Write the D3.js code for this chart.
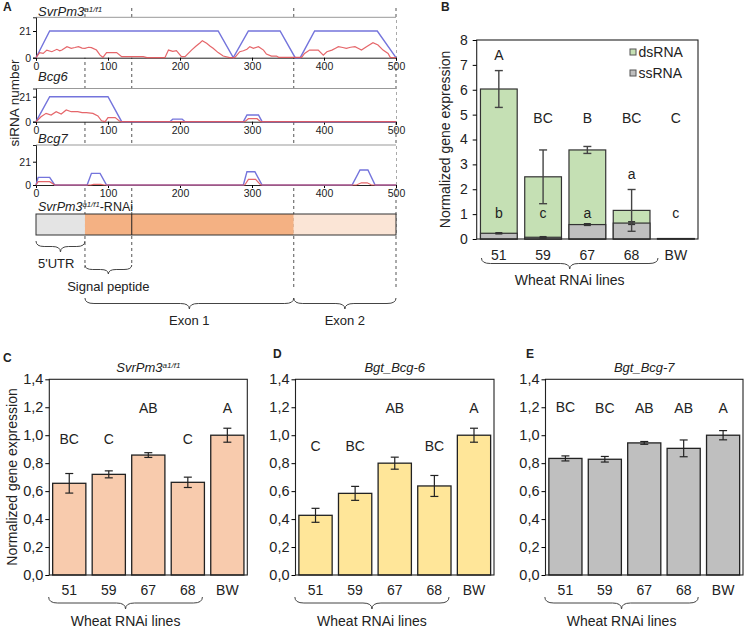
<!DOCTYPE html>
<html><head><meta charset="utf-8">
<script src="https://cdn.jsdelivr.net/npm/d3@7"></script>
<style>body{margin:0;background:#fff} text{font-family:Arial,"Liberation Sans",sans-serif;fill:#222}</style>
</head><body><svg id="fig" width="750" height="631"></svg>
<script>
// ---------------- DATA ----------------
// Panel A: siRNA coverage along the 500-bp RNAi fragment
const svrBlue = [[0,0],[19,21],[253,21],[274,0],[295,21],[339,21],[360,0],[367,0],[387,21],[474,21],[500,0]];
const svrRed = [[0,0],[5,4],[10,3.4],[15,6],[22,4.7],[29,6.6],[33,5.4],[36,6],[43,8.7],[49,7.4],[54,8],[59,8.7],[64,7.6],[68,7.4],[73,8.2],[77,7.9],[84,6],[89,2],[93,0.3],[98,4],[112,4],[119,0.8],[128,0.8],[149,0.8],[154,0],[179,0],[184,6],[190,5],[195,5.5],[202,0.8],[207,0.8],[216,6],[222,9],[228,11.8],[231,13.4],[237,11.3],[242,9],[246,7.4],[253,4],[260,1.3],[269,0],[276,0],[283,4.7],[288,5.5],[293,6.6],[297,8.7],[302,7.4],[309,8.7],[316,6],[320,2.9],[327,1.3],[334,1.3],[337,0.3],[369,0.3],[373,3.4],[380,6],[392,6],[399,2],[404,4.7],[411,6],[416,7.5],[420,8.7],[426,8],[431,7.4],[437,8.2],[443,8.7],[448,7.2],[452,6],[459,8.7],[468,11.8],[475,10],[482,6],[489,3.4],[492,0.3],[500,0]];
const bcg6Blue = [[0,0],[19,21],[100,21],[119,0],[186,0],[190,2.2],[203,2.2],[207,0],[288,0],[293,5.6],[309,5.6],[314,0],[500,0]];
const bcg6Red = [[0,0],[7,4.2],[14,7],[21,5.6],[28,8.4],[35,6.4],[42,9.8],[49,8.4],[58,8.4],[64,7.6],[70,7.6],[79,7],[86,4.8],[91,0.8],[96,0],[100,3.4],[110,3.4],[117,0],[290,0],[295,2.5],[307,2.5],[312,0],[500,0]];
const bcg7Blue = [[0,0],[3,6.9],[19,6.9],[26,0],[71,0],[77,10.5],[89,10.5],[98,0],[288,0],[293,12],[304,12],[314,0],[439,0],[450,13.5],[461,13.5],[471,0],[500,0]];
const bcg7Red = [[0,0],[3,3],[19,3],[26,0],[76,0],[80,0.6],[90,0.6],[95,0],[290,0],[295,5],[305,5],[312,0],[445,0],[452,2],[460,2],[466,0],[500,0]];
const coverageTicksX = [0,100,200,300,400,500];
const coverageTicksY = [0,21];
const geneRegions = [["5'UTR",0,68],["Exon 1",68,358],["Exon 2",358,500]];
const signalPeptide = [68,133];
const regionBoundaries = [68,133,358,500];

// Panel B
const catsB = ["51","59","67","68","BW"];
const dsRNA = [6.03, 2.50, 3.58, 1.15, 0.02];
const dsErr = [0.74, 1.08, 0.14, 0.84, 0];
const ssRNA = [0.23, 0.07, 0.58, 0.64, 0.01];
const ssErr = [0.02, 0.02, 0.03, 0.05, 0];
const dsLetters = ["A","BC","B","BC","C"];
const ssLetters = ["b","c","a","a","c"];
const dsLetterLevel = [7.4, 4.85, 4.85, 4.85, 4.85];
const ssLetterLevel = [1.05, 1.05, 1.05, 2.6, 1.05];
const yTicksB = [0,1,2,3,4,5,6,7,8];

// Panels C, D, E
const catsCDE = ["51","59","67","68","BW"];
const svrValues = [0.656, 0.72, 0.858, 0.663, 1.0];
const svrErr = [0.07, 0.025, 0.017, 0.037, 0.05];
const svrLetters = ["BC","C","AB","C","A"];
const svrLetterLevel = [0.97, 0.97, 1.195, 0.97, 1.195];
const bcg6Values = [0.427, 0.584, 0.80, 0.637, 1.0];
const bcg6Err = [0.05, 0.05, 0.043, 0.075, 0.05];
const bcg6Letters = ["C","BC","AB","BC","A"];
const bcg6LetterLevel = [0.92, 0.92, 1.195, 0.92, 1.195];
const bcg7Values = [0.834, 0.828, 0.945, 0.906, 1.0];
const bcg7Err = [0.018, 0.02, 0.01, 0.06, 0.033];
const bcg7Letters = ["BC","BC","AB","AB","A"];
const bcg7LetterLevel = [1.2, 1.195, 1.195, 1.195, 1.195];
const yTicksCDE = [0,0.2,0.4,0.6,0.8,1.0,1.2,1.4];

// ---------------- HELPERS ----------------
const svg = d3.select("#fig");
function brace(g, x1, x2, y, h, tip) {
  const m = tip ?? (x1 + x2) / 2;
  const q = Math.min(9, (x2 - x1) / 6);
  const yh = y + h / 2;
  g.append("path")
    .attr("d", `M${x1},${y} Q${x1},${yh} ${x1+q},${yh} L${m-q},${yh} Q${m},${yh} ${m},${y+h} Q${m},${yh} ${m+q},${yh} L${x2-q},${yh} Q${x2},${yh} ${x2},${y}`)
    .attr("fill","none").attr("stroke","#444").attr("stroke-width",1);
}
function panelLetter(t, x, y) {
  svg.append("text").attr("x",x).attr("y",y).attr("font-size",12).attr("font-weight","bold").text(t);
}
function supTitle(g, x, y, base, sup, rest, anchor, size) {
  const t = g.append("text").attr("x",x).attr("y",y).attr("font-size",size).attr("text-anchor",anchor||"start");
  t.append("tspan").attr("font-style","italic").text(base);
  t.append("tspan").attr("font-style","italic").attr("font-size",size*0.62).attr("dy",-size*0.34).text(sup);
  if (rest) t.append("tspan").attr("dy",size*0.34).text(rest);
  return t;
}

// ---------------- PANEL A ----------------
const gA = svg.append("g");
panelLetter("A", 3, 11);
const xA = d3.scaleLinear().domain([0,500]).range([36,396]);

// dashed boundary lines (drawn first; the plot areas cover them)
const dashEnd = {68:268, 133:265, 358:290, 500:290};
gA.selectAll(null).data(regionBoundaries).join("line")
  .attr("x1",d=>xA(d)).attr("x2",d=>xA(d)).attr("y1",8).attr("y2",d=>dashEnd[d])
  .attr("stroke","#555").attr("stroke-dasharray","3,3").attr("stroke-width",1);

const subplots = [
  {title:"SvrPm3", sup:"a1/f1", top:17.3, base:57.7, h21:26.7, blue:svrBlue, red:svrRed, ty:16},
  {title:"Bcg6", sup:"", top:88.5, base:121.7, h21:25, blue:bcg6Blue, red:bcg6Red, ty:81},
  {title:"Bcg7", sup:"", top:145, base:185, h21:23.3, blue:bcg7Blue, red:bcg7Red, ty:143}
];
subplots.forEach(s => {
  const ymax = 21 * (s.base - s.top) / s.h21;
  const y = d3.scaleLinear().domain([0, ymax]).range([s.base, s.top]);
  const g = gA.append("g");
  g.append("rect").attr("x",xA(0)).attr("y",s.top).attr("width",xA(500)-xA(0)).attr("height",s.base-s.top).attr("fill","#fff");
  g.append("line").attr("x1",xA(0)).attr("x2",xA(500)).attr("y1",s.top).attr("y2",s.top).attr("stroke","#999");
  const line = d3.line().x(d=>xA(d[0])).y(d=>y(d[1]));
  const ax = g.append("g").attr("transform",`translate(0,${s.base})`)
    .call(d3.axisBottom(xA).tickValues(coverageTicksX).tickSize(3).tickPadding(1.5));
  ax.select(".domain").attr("stroke","#222");
  ax.selectAll("text").attr("font-size",10.5).attr("fill","#222");
  const ay = g.append("g").attr("transform",`translate(${xA(0)},0)`)
    .call(d3.axisLeft(y).tickValues(coverageTicksY).tickSize(3).tickPadding(2));
  ay.select(".domain").attr("stroke","#222");
  ay.selectAll("text").attr("font-size",10.5).attr("fill","#222");
  g.append("path").attr("d",line(s.blue)).attr("fill","none").attr("stroke","#7474dc").attr("stroke-width",1.4);
  g.append("path").attr("d",line(s.red)).attr("fill","none").attr("stroke","#e2555a").attr("stroke-width",1.2).attr("stroke-opacity",0.9);
  if (s.sup) supTitle(g, 38, s.ty, s.title, s.sup, "", "start", 13);
  else g.append("text").attr("x",38).attr("y",s.ty).attr("font-size",13).attr("font-style","italic").text(s.title);
});
gA.append("text").attr("transform","translate(19,103) rotate(-90)").attr("text-anchor","middle").attr("font-size",13.5).text("siRNA number");

// gene diagram
supTitle(gA, 38, 211, "SvrPm3", "a1/f1", "-RNAi", "start", 12.5);
const geneColors = {"5'UTR":"#e4e4e4","Exon 1":"#f4b183","Exon 2":"#fbe5d6"};
gA.selectAll(null).data(geneRegions).join("rect")
  .attr("x",d=>xA(d[1])).attr("width",d=>xA(d[2])-xA(d[1])).attr("y",214).attr("height",21)
  .attr("fill",d=>geneColors[d[0]]);
gA.append("rect").attr("x",xA(0)).attr("y",214).attr("width",xA(500)-xA(0)).attr("height",21).attr("fill","none").attr("stroke","#333");
gA.append("line").attr("x1",xA(signalPeptide[1])).attr("x2",xA(signalPeptide[1])).attr("y1",214).attr("y2",235).attr("stroke","#222");

brace(gA, xA(0), xA(68), 241, 11);
gA.append("text").attr("x",38).attr("y",268).attr("font-size",13).text("5'UTR");
brace(gA, xA(signalPeptide[0]), xA(signalPeptide[1]), 265, 9);
gA.append("text").attr("x",(xA(signalPeptide[0])+xA(signalPeptide[1]))/2).attr("y",291).attr("text-anchor","middle").attr("font-size",13).text("Signal peptide");
brace(gA, xA(68), xA(358), 298, 11);
gA.append("text").attr("x",(xA(68)+xA(358))/2).attr("y",325).attr("text-anchor","middle").attr("font-size",13).text("Exon 1");
brace(gA, xA(358), xA(500), 298, 11);
gA.append("text").attr("x",(xA(358)+xA(500))/2).attr("y",325).attr("text-anchor","middle").attr("font-size",13).text("Exon 2");

// ---------------- PANEL B ----------------
const gB = svg.append("g");
panelLetter("B", 441, 11);
const xB = d3.scaleBand().domain(catsB).range([476.7,698]).paddingInner(0.17).paddingOuter(0.085);
const yB = d3.scaleLinear().domain([0,8]).range([239,40]);
const bw = xB.bandwidth();
gB.selectAll(null).data(catsB).join("rect")
  .attr("x",d=>xB(d)).attr("width",bw).attr("y",(d,i)=>yB(dsRNA[i])).attr("height",(d,i)=>yB(0)-yB(dsRNA[i]))
  .attr("fill","#c5e0b4").attr("stroke","#333").attr("stroke-width",1.2);
gB.selectAll(null).data(catsB).join("rect")
  .attr("x",d=>xB(d)).attr("width",bw).attr("y",(d,i)=>yB(ssRNA[i])).attr("height",(d,i)=>yB(0)-yB(ssRNA[i]))
  .attr("fill","#bfbfbf").attr("stroke","#333").attr("stroke-width",1.2);
function errBars(g, cats, x, y, vals, errs, cap, color, w) {
  cats.forEach((c,i) => {
    if (!errs[i]) return;
    const cx = x(c) + x.bandwidth()/2;
    const y1 = y(vals[i]-errs[i]), y2 = y(vals[i]+errs[i]);
    g.append("line").attr("x1",cx).attr("x2",cx).attr("y1",y1).attr("y2",y2).attr("stroke",color).attr("stroke-width",w);
    [y1,y2].forEach(yy => g.append("line").attr("x1",cx-cap).attr("x2",cx+cap).attr("y1",yy).attr("y2",yy).attr("stroke",color).attr("stroke-width",w));
  });
}
errBars(gB, catsB, xB, yB, ssRNA, ssErr, 3.5, "#333", 1.6);
errBars(gB, catsB, xB, yB, dsRNA, dsErr, 4, "#444", 1.4);
gB.append("rect").attr("x",476.7).attr("y",40).attr("width",698-476.7).attr("height",199).attr("fill","none").attr("stroke","#222").attr("stroke-width",1.1);
const ayB = gB.append("g").attr("transform","translate(476.7,0)").call(d3.axisLeft(yB).tickValues(yTicksB).tickSize(4).tickPadding(5));
ayB.select(".domain").remove();
ayB.selectAll("text").attr("font-size",14).attr("fill","#222");
gB.selectAll(null).data(catsB).join("text").attr("x",d=>xB(d)+bw/2).attr("y",260).attr("text-anchor","middle").attr("font-size",14).text(d=>d);
gB.selectAll(null).data(dsLetters).join("text").attr("x",(d,i)=>xB(catsB[i])+bw/2).attr("y",(d,i)=>yB(dsLetterLevel[i])+5).attr("text-anchor","middle").attr("font-size",14).text(d=>d);
gB.selectAll(null).data(ssLetters).join("text").attr("x",(d,i)=>xB(catsB[i])+bw/2).attr("y",(d,i)=>yB(ssLetterLevel[i])+5).attr("text-anchor","middle").attr("font-size",14).text(d=>d);
// legend
[["dsRNA","#c5e0b4",52],["ssRNA","#bfbfbf",73]].forEach(l => {
  gB.append("rect").attr("x",630).attr("y",l[2]-3).attr("width",6).attr("height",6).attr("fill",l[1]).attr("stroke","#555");
  gB.append("text").attr("x",638.5).attr("y",l[2]+5).attr("font-size",14).text(l[0]);
});
brace(gB, xB("51")+1, xB("68")+bw+8, 258, 11);
gB.append("text").attr("x",(xB("51")+1+xB("68")+bw+8)/2).attr("y",285).attr("text-anchor","middle").attr("font-size",14).text("Wheat RNAi lines");
gB.append("text").attr("transform","translate(450,139.5) rotate(-90)").attr("text-anchor","middle").attr("font-size",14).text("Normalized gene expression");

// ---------------- PANELS C, D, E ----------------
function barPanel(o) {
  const g = svg.append("g");
  const x = d3.scaleBand().domain(catsCDE).range([o.left,o.right]).paddingInner(0.16).paddingOuter(0.085);
  const y = d3.scaleLinear().domain([0,1.4]).range([575,379.3]);
  const w = x.bandwidth();
  g.selectAll(null).data(catsCDE).join("rect")
    .attr("x",d=>x(d)).attr("width",w).attr("y",(d,i)=>y(o.values[i])).attr("height",(d,i)=>y(0)-y(o.values[i]))
    .attr("fill",o.color).attr("stroke","#222").attr("stroke-width",1.3);
  errBars(g, catsCDE, x, y, o.values, o.errs, 4, "#222", 1.2);
  g.append("rect").attr("x",o.left).attr("y",y(1.4)).attr("width",o.right-o.left).attr("height",y(0)-y(1.4)).attr("fill","none").attr("stroke","#222").attr("stroke-width",1.1);
  const ay = g.append("g").attr("transform",`translate(${o.left},0)`)
    .call(d3.axisLeft(y).tickValues(yTicksCDE).tickSize(4).tickPadding(2).tickFormat(d=>d3.format(".1f")(d).replace(".",",")));
  ay.select(".domain").remove();
  ay.selectAll("text").attr("font-size",14.5).attr("fill","#222");
  g.selectAll(null).data(catsCDE).join("text").attr("x",d=>x(d)+w/2).attr("y",595).attr("text-anchor","middle").attr("font-size",14).text(d=>d);
  g.selectAll(null).data(o.letters).join("text").attr("x",(d,i)=>x(catsCDE[i])+w/2).attr("y",(d,i)=>y(o.levels[i])+5).attr("text-anchor","middle").attr("font-size",14).text(d=>d);
  const b1 = x("51")-4, b2 = x("68")+w-2;
  brace(g, b1, b2, 597, 12);
  g.append("text").attr("x",(b1+b2)/2).attr("y",626).attr("text-anchor","middle").attr("font-size",14).text("Wheat RNAi lines");
  const tx = (o.left+o.right)/2;
  if (o.sup) supTitle(g, tx, 372, o.title, o.sup, "", "middle", 13);
  else g.append("text").attr("x",tx).attr("y",372).attr("text-anchor","middle").attr("font-size",13).attr("font-style","italic").text(o.title);
  return g;
}
panelLetter("C", 3, 362);
barPanel({left:49.3, right:247.3, values:svrValues, errs:svrErr, letters:svrLetters, levels:svrLetterLevel, color:"#f8cbad", title:"SvrPm3", sup:"a1/f1"});
svg.append("text").attr("transform","translate(17,477) rotate(-90)").attr("text-anchor","middle").attr("font-size",14).text("Normalized gene expression");
panelLetter("D", 273, 358);
barPanel({left:295.5, right:494, values:bcg6Values, errs:bcg6Err, letters:bcg6Letters, levels:bcg6LetterLevel, color:"#ffe699", title:"Bgt_Bcg-6"});
panelLetter("E", 526, 358);
barPanel({left:545.5, right:743, values:bcg7Values, errs:bcg7Err, letters:bcg7Letters, levels:bcg7LetterLevel, color:"#bfbfbf", title:"Bgt_Bcg-7"});
</script></body></html>
